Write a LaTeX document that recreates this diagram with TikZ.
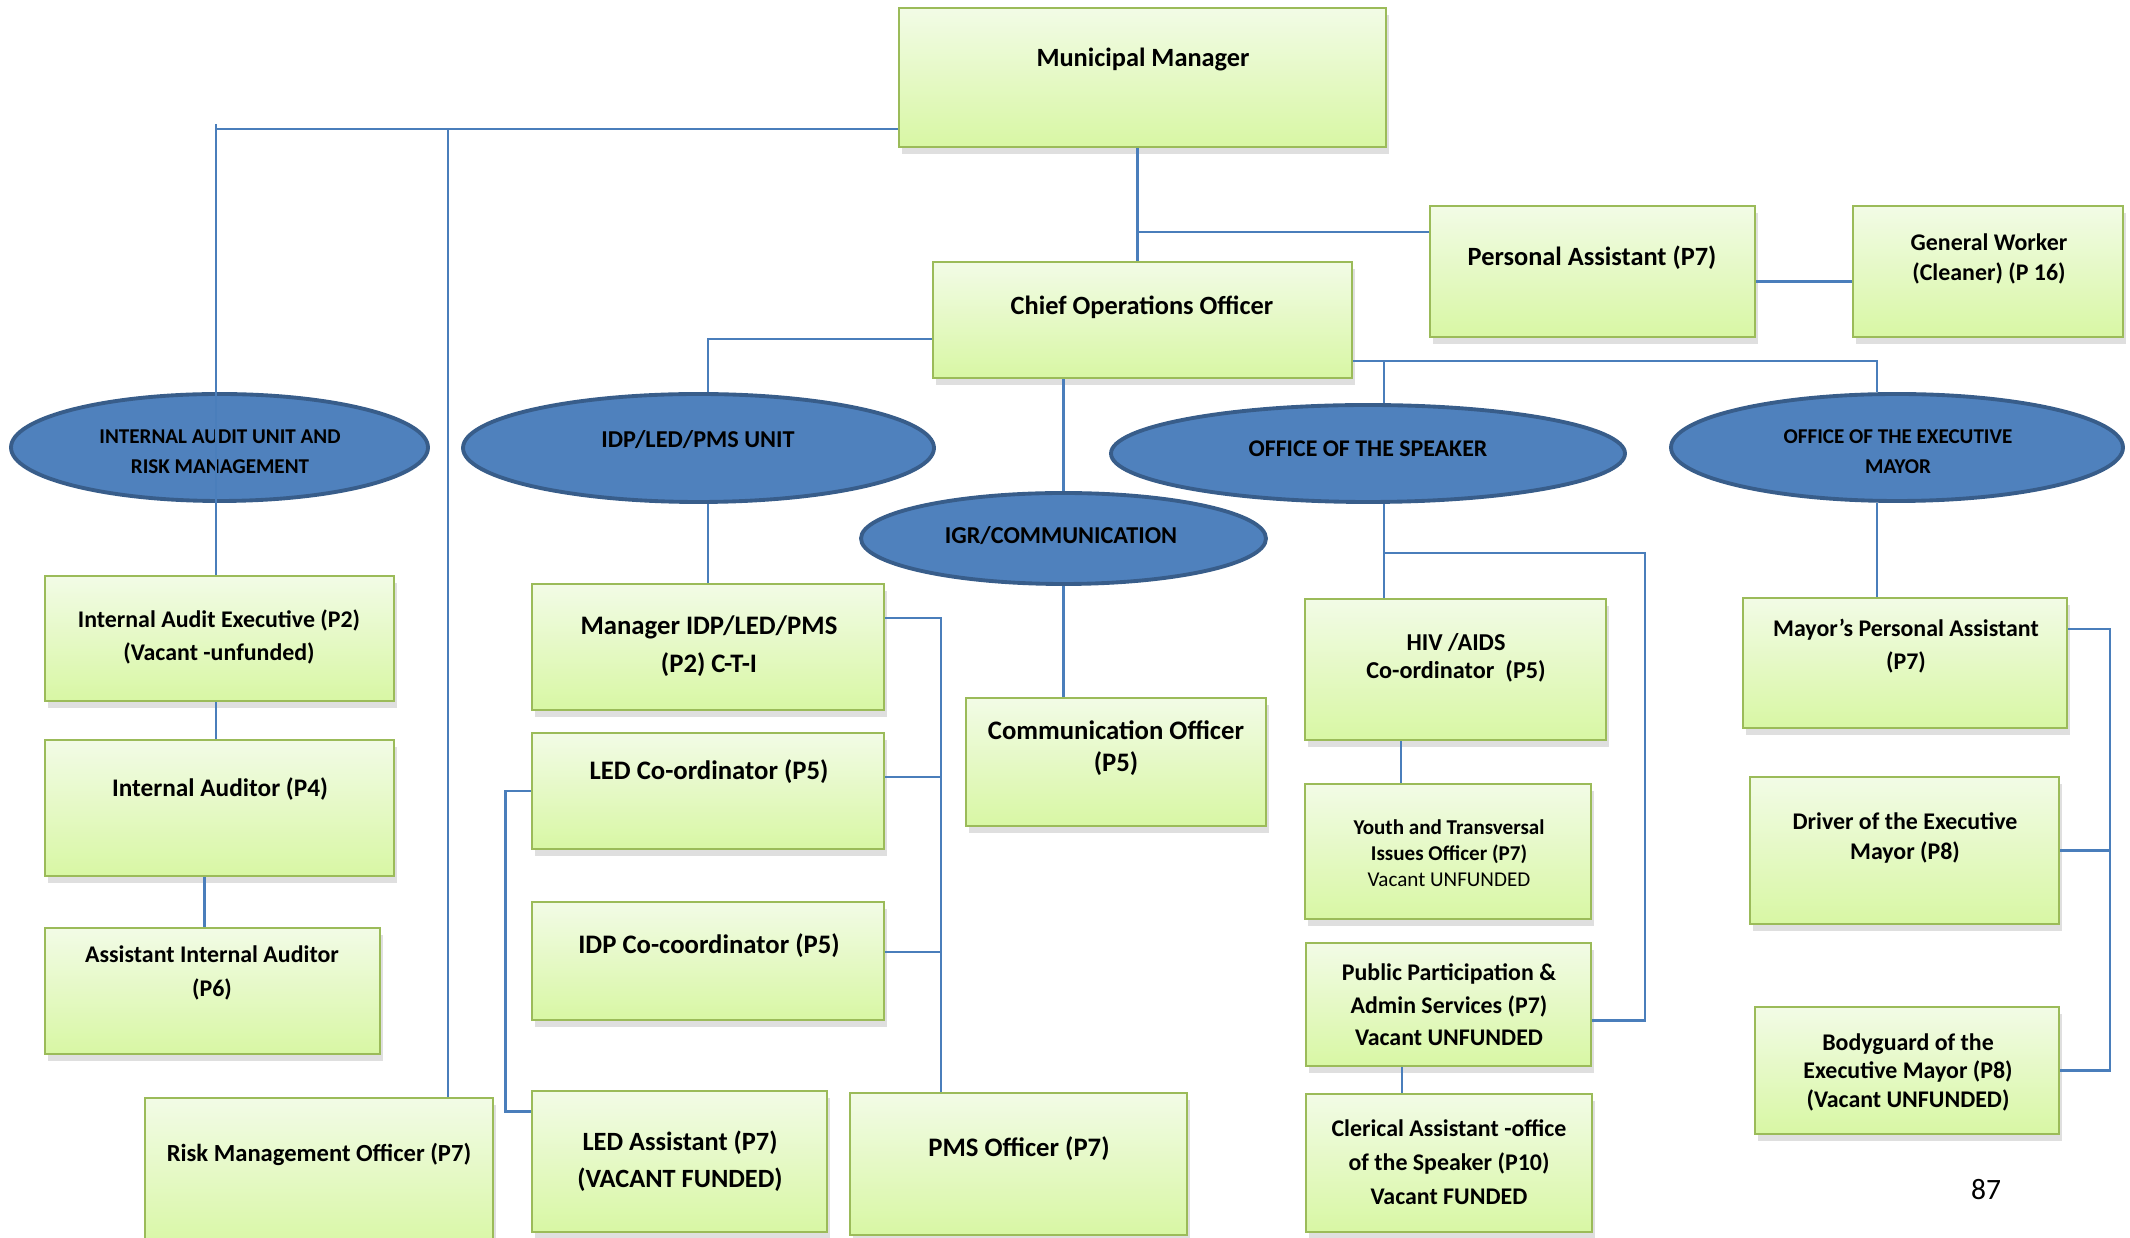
\documentclass[tikz,border=0pt]{standalone}
\usepackage{fontspec}
\setmainfont{Carlito}
\usepackage{xcolor}
\usepackage{tikz}
\usetikzlibrary{shapes.geometric,shadows}

\definecolor{boxtop}{RGB}{242,251,230}
\definecolor{boxbot}{RGB}{216,247,164}
\definecolor{boxline}{HTML}{9BBB59}
\definecolor{unitfill}{HTML}{4F81BD}
\definecolor{unitline}{HTML}{385D8A}
\definecolor{linkblue}{HTML}{4A7EBB}

\begin{document}
\begin{tikzpicture}[x=0.1mm, y=-0.1mm, post/.style={draw=boxline, line width=0.8pt, top color=boxtop, bottom color=boxbot, inner sep=0pt, drop shadow={shadow xshift=0.3mm, shadow yshift=-0.7mm, opacity=0.25}}, unit/.style={ellipse, draw=unitline, fill=unitfill, line width=1.1pt, inner sep=0pt}, txt/.style 2 args={align=center, inner sep=0pt, font=\bfseries\fontsize{#1}{#2}\selectfont}, link/.style={draw=linkblue, line width=0.8pt}]
\useasboundingbox (0,0) rectangle (2130,1238);
\node[post, minimum width=48.7mm, minimum height=13.9mm] (mm) at (1142.5,77.5) {};
\node[post, minimum width=41.9mm, minimum height=11.6mm] (coo) at (1142.5,320) {};
\node[post, minimum width=32.5mm, minimum height=13.1mm] (pa) at (1592.5,271.5) {};
\node[post, minimum width=27.0mm, minimum height=13.1mm] (gw) at (1988,271.5) {};
\node[unit, minimum width=41.7mm, minimum height=10.7mm] (iau) at (219.5,447.5) {};
\node[unit, minimum width=47.1mm, minimum height=10.8mm] (idpu) at (698.5,448) {};
\node[unit, minimum width=40.5mm, minimum height=9.1mm] (igr) at (1063.5,538.5) {};
\node[unit, minimum width=51.4mm, minimum height=9.7mm] (spku) at (1368,453.5) {};
\node[unit, minimum width=45.2mm, minimum height=10.7mm] (emu) at (1897,447.5) {};
\node[post, minimum width=34.9mm, minimum height=12.5mm] (iae) at (219.5,638.5) {};
\node[post, minimum width=34.9mm, minimum height=13.6mm] (ia) at (219.5,808) {};
\node[post, minimum width=33.5mm, minimum height=12.6mm] (aia) at (212.5,991) {};
\node[post, minimum width=34.8mm, minimum height=15.2mm] (rmo) at (319,1174) {};
\node[post, minimum width=35.2mm, minimum height=12.6mm] (mgr) at (708,647) {};
\node[post, minimum width=35.2mm, minimum height=11.6mm] (ledc) at (708,791) {};
\node[post, minimum width=35.2mm, minimum height=11.8mm] (idpc) at (708,961) {};
\node[post, minimum width=29.5mm, minimum height=14.1mm] (leda) at (679.5,1161.5) {};
\node[post, minimum width=33.7mm, minimum height=14.2mm] (pms) at (1018.5,1164) {};
\node[post, minimum width=30.0mm, minimum height=12.8mm] (comm) at (1116,762) {};
\node[post, minimum width=30.1mm, minimum height=14.1mm] (hiv) at (1455.5,669.5) {};
\node[post, minimum width=28.6mm, minimum height=13.5mm] (yt) at (1448,851.5) {};
\node[post, minimum width=28.5mm, minimum height=12.3mm] (pp) at (1448.5,1004.5) {};
\node[post, minimum width=28.6mm, minimum height=13.8mm] (cler) at (1449,1163) {};
\node[post, minimum width=32.4mm, minimum height=13.0mm] (mpa) at (1905,663) {};
\node[post, minimum width=30.9mm, minimum height=14.7mm] (drv) at (1904.5,850.5) {};
\node[post, minimum width=30.4mm, minimum height=12.7mm] (bg) at (1907,1070.5) {};
\node[txt={7.5}{10}] (mm-t) at (1143,59) {Municipal Manager};
\node[txt={7.5}{10}] (coo-t) at (1142,307) {Chief Operations Officer};
\node[txt={7.5}{10}] (pa-t) at (1592,258) {Personal Assistant (P7)};
\node[txt={6.8}{8.5}] (gw-t) at (1989,259) {General Worker\\(Cleaner) (P 16)};
\node[txt={6.0}{8.5}] (iau-t) at (220,452) {INTERNAL AUDIT UNIT AND\\RISK MANAGEMENT};
\node[txt={6.9}{9}] (idpu-t) at (698,440) {IDP/LED/PMS UNIT};
\node[txt={6.9}{9}] (igr-t) at (1061,536) {IGR/COMMUNICATION};
\node[txt={6.8}{9}] (spku-t) at (1368,449) {OFFICE OF THE SPEAKER};
\node[txt={6.0}{8.5}] (emu-t) at (1898,452) {OFFICE OF THE EXECUTIVE\\MAYOR};
\node[txt={6.8}{9.4}] (iae-t) at (219,637) {Internal Audit Executive (P2)\\(Vacant -unfunded)};
\node[txt={7.2}{9.4}] (ia-t) at (220,789) {Internal Auditor (P4)};
\node[txt={6.8}{9.6}] (aia-t) at (212,973) {Assistant Internal Auditor\\(P6)};
\node[txt={7.0}{9.4}] (rmo-t) at (319,1154) {Risk Management Officer (P7)};
\node[txt={7.6}{10.8}] (mgr-t) at (709,646) {Manager IDP/LED/PMS\\(P2) C-T-I};
\node[txt={7.6}{10.8}] (ledc-t) at (709,772) {LED Co-ordinator (P5)};
\node[txt={7.6}{10.8}] (idpc-t) at (709,946) {IDP Co-coordinator (P5)};
\node[txt={7.5}{10.5}] (leda-t) at (680,1161) {LED Assistant (P7)\\(VACANT FUNDED)};
\node[txt={7.6}{10.8}] (pms-t) at (1019,1149) {PMS Officer (P7)};
\node[txt={7.6}{9.1}] (comm-t) at (1116,748) {Communication Officer\\(P5)};
\node[txt={6.9}{8}] (hiv-t) at (1456,658) {HIV /AIDS\\Co-ordinator~ (P5)};
\node[txt={6.0}{7.4}] (yt-t) at (1449,853) {Youth and Transversal\\Issues Officer (P7)\\{\mdseries Vacant UNFUNDED}};
\node[txt={6.8}{9.2}] (pp-t) at (1449,1005) {Public Participation \&\\Admin Services (P7)\\Vacant UNFUNDED};
\node[txt={6.8}{9.6}] (cler-t) at (1449,1162) {Clerical Assistant -office\\of the Speaker (P10)\\Vacant FUNDED};
\node[txt={6.8}{9.6}] (mpa-t) at (1906,646) {Mayor’s Personal Assistant\\(P7)};
\node[txt={6.8}{8.5}] (drv-t) at (1905,838) {Driver of the Executive\\Mayor (P8)};
\node[txt={6.8}{8.1}] (bg-t) at (1908,1072) {Bodyguard of the\\Executive Mayor (P8)\\(Vacant UNFUNDED)};
\node[inner sep=0pt, font=\fontsize{8.4}{10}\selectfont] (page) at (1986,1190) {87};
\coordinate (jtop) at (216,129);
\coordinate (jrisk) at (448,129);
\coordinate (jpa) at (1137,232);
\coordinate (jidp) at (708,339);
\coordinate (jmay) at (1877,361);
\coordinate (jspk) at (1384,361);
\coordinate (jpp) at (1645,553);
\coordinate (jbr) at (2110,629);
\coordinate (jpms) at (941,618);
\path ([xshift=-0.8mm]aia.north) coordinate (jaia);
\path ([xshift=-4.7mm]yt.north) coordinate (jyt);
\path ([xshift=-4.7mm]cler.north) coordinate (jcl);
\draw[link] (jtop -| mm.west) -- (jtop);
\draw[link] ([yshift=0.5mm]jtop) -- (jtop |- iae.north);
\draw[link] (jrisk) -- (jrisk |- rmo.north);
\draw[link] (jtop |- iae.south) -- (jtop |- ia.north);
\draw[link] (jaia |- ia.south) -- (jaia);
\draw[link] ([xshift=-0.5mm]mm.south) -- ([xshift=-0.5mm]coo.north);
\draw[link] (jpa) -- (jpa -| pa.west);
\draw[link] ([yshift=-1mm]pa.east) -- ([yshift=-1mm]gw.west);
\draw[link] (jidp -| coo.west) -- (jidp) -- (jidp |- idpu.north);
\draw[link] (jidp |- idpu.south) -- (mgr.north);
\draw[link] (igr.north |- coo.south) -- (igr.north);
\draw[link] (igr.south) -- (igr.south |- comm.north);
\draw[link] (jmay -| coo.east) -- (jmay) -- (jmay |- emu.north);
\draw[link] (jspk) -- (jspk |- spku.north);
\draw[link] (jspk |- spku.south) -- (jspk |- hiv.north);
\draw[link] (jspk |- jpp) -- (jpp) |- ([yshift=-1.6mm]pp.east);
\draw[link] (jyt) -- (jyt |- hiv.south);
\draw[link] (jcl) -- (jcl |- pp.south);
\draw[link] (jmay |- emu.south) -- (jmay |- mpa.north);
\draw[link] (jbr -| mpa.east) -- (jbr) |- (bg.east);
\draw[link] (drv.east) -- (drv.east -| jbr);
\draw[link] (jpms -| mgr.east) -- (jpms) -- (jpms |- pms.north);
\draw[link] ([yshift=1.4mm]ledc.east) -| (jpms);
\draw[link] ([yshift=0.9mm]idpc.east) -| (jpms);
\draw[link] (ledc.west) -- ++(-25,0) |- ([yshift=5mm]leda.west);
\end{tikzpicture}
\end{document}
